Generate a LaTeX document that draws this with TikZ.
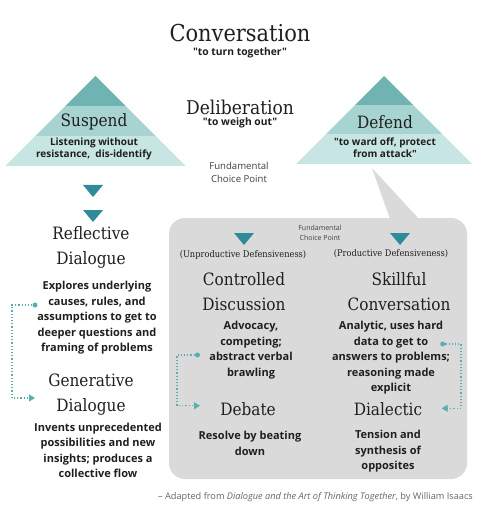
\documentclass[tikz,border=0pt]{standalone}
\usepackage{fontspec}
\newfontfamily\osans{Open Sans}
\newfontfamily\tserif{DejaVu Serif Condensed}
\usetikzlibrary{arrows.meta}
\definecolor{bandA}{HTML}{6FB4B2}
\definecolor{bandB}{HTML}{A7D4D1}
\definecolor{bandC}{HTML}{C7E5E3}
\definecolor{tealdark}{HTML}{2F8B9A}
\definecolor{boxgray}{HTML}{DADADA}
\definecolor{dotcol}{HTML}{5AAFAE}
\definecolor{txt}{HTML}{1F1F1F}
\definecolor{footgray}{HTML}{666666}
\tikzset{
  every node/.style={inner sep=0pt, text=txt},
  bigtitle/.style={font=\tserif\fontsize{23.3}{26}\selectfont},
  midtitle/.style={font=\tserif\fontsize{19}{22}\selectfont},
  title/.style={font=\tserif\fontsize{17}{25}\selectfont, align=center},
  body/.style={font=\osans\bfseries\fontsize{11}{15.5}\selectfont, align=center},
  smallbody/.style={font=\osans\bfseries\fontsize{10}{12}\selectfont, align=center},
  quote/.style={font=\osans\bfseries\fontsize{10.3}{11}\selectfont},
  choice/.style={font=\osans\fontsize{9.6}{13}\selectfont, align=center, text=txt!85},
  tinychoice/.style={font=\osans\fontsize{7}{9.5}\selectfont, align=center, text=txt!85},
  paren/.style={font=\tserif\fontsize{9.2}{11}\selectfont},
  dotnode/.style={circle, fill=dotcol, minimum size=5pt, inner sep=0pt},
  conn/.style={draw=dotcol, line width=1.2pt, dotted, -{Triangle[length=6pt,width=7pt,fill=dotcol]}},
  downtri/.style={fill=tealdark},
}
\begin{document}
\begin{tikzpicture}[x=1pt,y=-1pt]
\useasboundingbox (0,0) rectangle (480,521);
\fill[white] (0,0) rectangle (480,521);

% big triangles
\begin{scope}
  \clip (5.5,166) -- (95.5,76) -- (185.5,166) -- cycle;
  \fill[bandA] (0,70) rectangle (200,106);
  \fill[bandB] (0,106) rectangle (200,136);
  \fill[bandC] (0,136) rectangle (200,170);
\end{scope}
\begin{scope}
  \clip (296,164) -- (384,76) -- (472,164) -- cycle;
  \fill[bandA] (290,70) rectangle (480,105);
  \fill[bandB] (290,105) rectangle (480,134);
  \fill[bandC] (290,134) rectangle (480,170);
\end{scope}

% gray box with pointer
\fill[boxgray, rounded corners=16pt] (169,218) rectangle (467,479);
\fill[boxgray] (390,219) -- (372,168) -- (419,219) -- cycle;

% small down triangles
\fill[downtri] (83,185) -- (103,185) -- (93,197) -- cycle;
\fill[downtri] (83,210) -- (103,210) -- (93,222) -- cycle;
\fill[downtri] (234,233) -- (254,233) -- (244,245) -- cycle;
\fill[downtri] (390,233) -- (410,233) -- (400,245) -- cycle;

% titles
\node[bigtitle] (conv) at (240,33) {Conversation};
\node[quote] (convq) at (240,53) {"to turn together"};
\node[midtitle] (delib) at (240,107) {Deliberation};
\node[quote] (delibq) at (240,123) {"to weigh out"};
\node[title] (susp) at (94,122) {Suspend};
\node[smallbody] (suspq) at (94,149) {Listening without\\resistance,\ \ dis-identify};
\node[title] (def) at (385,122) {Defend};
\node[smallbody] (defq) at (385,147.5) {"to ward off, protect\\from attack"};
\node[choice] (fcp) at (239,172.5) {Fundamental\\Choice Point};

% left column
\node[title] (refl) at (91,247.5) {Reflective\\Dialogue};
\node[body] (reflq) at (97,318) {Explores underlying\\causes, rules, and\\assumptions to get to\\deeper questions and\\framing of problems};
\node[title] (gen) at (91,394.5) {Generative\\Dialogue};
\node[body] (genq) at (98,450.3) {Invents unprecedented\\possibilities and new\\insights; produces a\\collective flow};

% inside box
\node[tinychoice] (fcp2) at (320,233) {Fundamental\\Choice Point};
\node[paren] (unprod) at (243,255) {(Unproductive Defensiveness)};
\node[paren] (prod) at (391,254) {(Productive Defensiveness)};
\node[title] (ctrl) at (244,292) {Controlled\\Discussion};
\node[title] (skill) at (399,292) {Skillful\\Conversation};
\node[body] (ctrlq) at (251,350) {Advocacy,\\competing;\\abstract verbal\\brawling};
\node[body] (skillq) at (391,358) {Analytic, uses hard\\data to get to\\answers to problems;\\reasoning made\\explicit};
\node[title] (deb) at (248,409) {Debate};
\node[title] (dia) at (388,409) {Dialectic};
\node[body] (debq) at (250,443.5) {Resolve by beating\\down};
\node[body] (diaq) at (388,451.5) {Tension and\\synthesis of\\opposites};

% connectors
\node[dotnode] (d1) at (35,305) {};
\coordinate (e1) at (35,398);
\draw[conn] (d1) -- ++(-23,0) |- (e1);
\node[dotnode] (d2) at (197.5,355) {};
\coordinate (e2) at (200,405.7);
\draw[conn] (d2) -- ++(-20.5,0) |- (e2);
\node[dotnode] (d3) at (442.7,344) {};
\coordinate (e3) at (441.7,408.3);
\draw[conn] (d3) -- ++(18.3,0) |- (e3);

% footer
\node[font=\osans\fontsize{9.2}{10}\selectfont, text=footgray, anchor=east] (foot) at (473,496.7)
  {– Adapted from \textit{Dialogue and the Art of Thinking Together}, by William Isaacs};
\end{tikzpicture}
\end{document}
